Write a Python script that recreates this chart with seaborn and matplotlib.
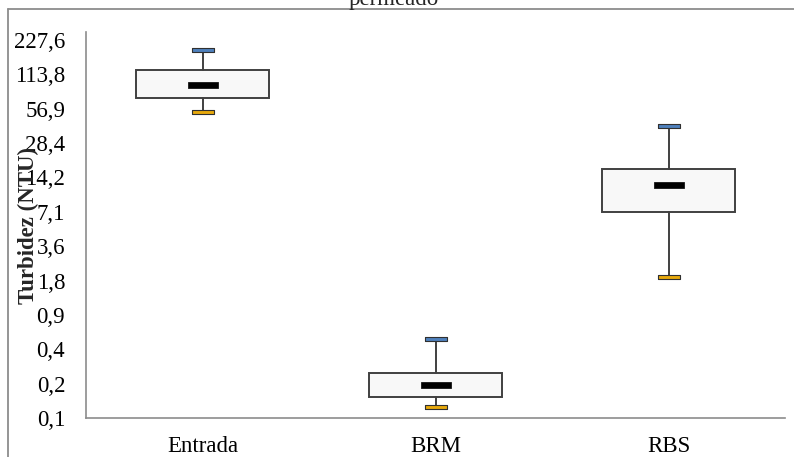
import numpy as np
import pandas as pd
import matplotlib
matplotlib.use("Agg")
import matplotlib.pyplot as plt
from matplotlib.lines import Line2D
import seaborn as sns

# Five-number summaries of turbidity (NTU) per sampling point
categories = ["Entrada", "BRM", "RBS"]
maximum = [186.0, 0.547, 40.2]
q3 = [124.0, 0.276, 16.9]
median = [91.8, 0.216, 12.2]
q1 = [70.6, 0.170, 7.09]
minimum = [53.3, 0.139, 1.91]

tick_labels = ["0,1", "0,2", "0,4", "0,9", "1,8", "3,6", "7,1",
               "14,2", "28,4", "56,9", "113,8", "227,6"]
top_tick = 227.6

sns.set_theme(style="white")
plt.rcParams["font.family"] = ["Liberation Serif", "DejaVu Serif"]

fig = plt.figure(figsize=(7.94, 4.57), dpi=100)
ax = fig.add_axes([86 / 794, 1 - 418 / 457, 699 / 794, 386 / 457])

pos = np.arange(len(categories))
stats = [dict(med=m, q1=a, q3=b, whislo=lo, whishi=hi, fliers=[], label=c)
         for c, m, a, b, lo, hi in zip(categories, median, q1, q3, minimum, maximum)]
ax.bxp(stats, positions=pos, widths=0.57, patch_artist=True, showcaps=False,
       showfliers=False,
       boxprops=dict(facecolor="#f8f8f8", edgecolor="#404040", linewidth=1.4),
       whiskerprops=dict(color="#404040", linewidth=1.4),
       medianprops=dict(linewidth=0, alpha=0))

# Flat rectangle markers for caps and medians
rect_cap = [(-1, -0.19), (1, -0.19), (1, 0.19), (-1, 0.19), (-1, -0.19)]
rect_med = [(-1, -0.24), (1, -0.24), (1, 0.24), (-1, 0.24), (-1, -0.24)]

df = pd.DataFrame({"x": pos, "max": maximum, "min": minimum, "med": median})
sns.scatterplot(data=df, x="x", y="max", marker=rect_cap, s=230, color="#4f81bd",
                edgecolor="#303030", linewidth=0.8, ax=ax, zorder=5)
sns.scatterplot(data=df, x="x", y="min", marker=rect_cap, s=230, color="#e8a90c",
                edgecolor="#303030", linewidth=0.8, ax=ax, zorder=5)
sns.scatterplot(data=df, x="x", y="med", marker=rect_med, s=440, color="black",
                edgecolor="black", linewidth=0.5, ax=ax, zorder=5)

ax.set_yscale("log", base=2)
ticks = [top_tick / 2 ** k for k in range(len(tick_labels) - 1, -1, -1)]
ax.set_yticks(ticks)
ax.set_yticklabels(tick_labels)
ax.minorticks_off()
ax.set_ylim(ticks[0], top_tick * 2 ** (8 / 34.36))
ax.set_xlim(-0.5, 2.5)
ax.set_xticks(pos)
ax.set_xticklabels(categories)
ax.set_xlabel("")
ax.set_ylabel("")
ax.tick_params(axis="y", length=0, pad=15, labelsize=16.5, labelcolor="black")
ax.tick_params(axis="x", length=0, pad=13, labelsize=16.5, labelcolor="black")

for side in ["top", "right"]:
    ax.spines[side].set_visible(False)
for side in ["left", "bottom"]:
    ax.spines[side].set_color("#8c8c8c")
    ax.spines[side].set_linewidth(1.2)

fig.text(28 / 794, 1 - 225 / 457, "Turbidez (NTU)", rotation=90, ha="center",
         va="center", fontsize=16.5, fontweight="bold")
fig.text(394 / 794, 1 - 5 / 457, "permeado", ha="center", va="baseline",
         fontsize=16.5)

# Chart frame
frame_kw = dict(color="#8c8c8c", linewidth=1.3, transform=fig.transFigure)
fig.add_artist(Line2D([8 / 794, 1.0], [1 - 9 / 457, 1 - 9 / 457], **frame_kw))
fig.add_artist(Line2D([8 / 794, 8 / 794], [0.0, 1 - 9 / 457], **frame_kw))

fig.savefig("out.png", dpi=100)
